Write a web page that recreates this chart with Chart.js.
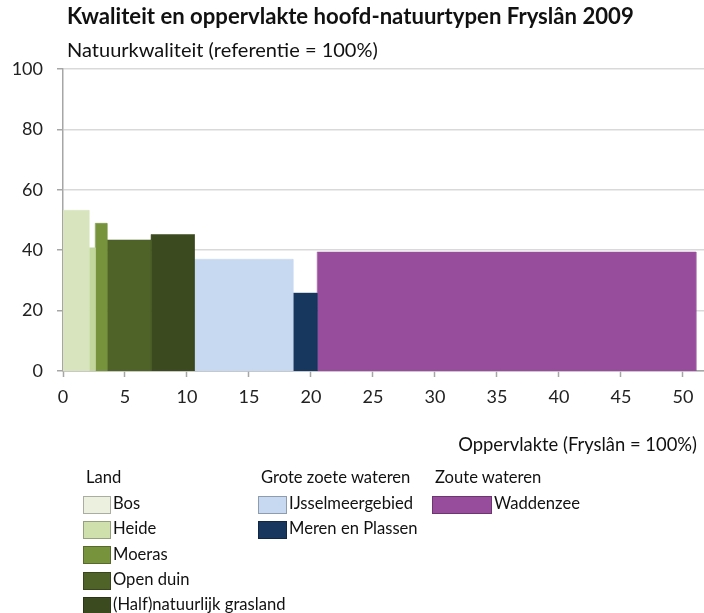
<!DOCTYPE html>
<html>
<head>
<meta charset="utf-8">
<script src="https://cdn.jsdelivr.net/npm/chart.js@4.4.1/dist/chart.umd.min.js"></script>
<style>
  html,body{margin:0;padding:0;background:#fff;}
  #wrap{position:relative;width:704px;height:613px;overflow:hidden;font-family:Lato,"Open Sans",sans-serif;color:#111;}
  #c{position:absolute;left:0;top:0;}
  .t{position:absolute;white-space:nowrap;line-height:1;}
  .sw{position:absolute;box-sizing:border-box;border:1px solid rgba(0,0,0,0.28);}
</style>
</head>
<body>
<div id="wrap">
  <canvas id="c" width="704" height="613"></canvas>
</div>
<script>
// ---- data ----
const categories = ["Bos", "Heide", "Moeras", "Open duin", "(Half)natuurlijk grasland", "IJsselmeergebied", "Meren en Plassen", "Waddenzee"];
const groups     = ["Land", "Land", "Land", "Land", "Land", "Grote zoete wateren", "Grote zoete wateren", "Zoute wateren"];
const areaShare  = [2.1, 0.5, 0.95, 3.55, 3.5, 7.95, 1.95, 30.55];   // Oppervlakte (Fryslân = 100%)
const quality    = [53.2, 40.8, 48.9, 43.4, 45.2, 37.0, 25.8, 39.4]; // Natuurkwaliteit (referentie = 100%)
const barColors  = ["#d7e4bd", "#c3d69b", "#77933c", "#4f6228", "#3b4a1f", "#c6d9f1", "#17375e", "#984c9c"];
const legendColors = ["#ebf1de", "#cfe0ad", "#77933c", "#4f6228", "#3b4a1f", "#c6d9f1", "#17375e", "#984c9c"];
const xTicks = [0, 5, 10, 15, 20, 25, 30, 35, 40, 45, 50];
const yTicks = [0, 20, 40, 60, 80, 100];

// ---- build rectangles from cumulative area ----
let cum = 0;
const datasets = categories.map((name, i) => {
  const x0 = cum, x1 = cum + areaShare[i];
  cum = x1;
  return {
    label: name,
    data: [{x: x0, y: 0}, {x: x0, y: quality[i]}, {x: x1, y: quality[i]}, {x: x1, y: 0}],
    showLine: true,
    fill: 'origin',
    backgroundColor: barColors[i],
    borderColor: barColors[i],
    borderWidth: 0.5,
    pointRadius: 0,
    tension: 0
  };
});

const axisGrey = '#a6a6a6';
new Chart(document.getElementById('c'), {
  type: 'scatter',
  data: { datasets },
  options: {
    responsive: false,
    animation: false,
    events: [],
    layout: { padding: { top: 69, left: 0, right: 0, bottom: 0 } },
    plugins: { legend: { display: false }, tooltip: { enabled: false }, title: { display: false } },
    scales: {
      x: {
        type: 'linear', min: 0, max: 51.7,
        afterBuildTicks: s => { s.ticks = xTicks.map(v => ({ value: v })); },
        afterFit: s => { s.height = 242; },
        grid: { drawOnChartArea: false, drawTicks: true, tickLength: 6, tickColor: axisGrey, tickWidth: 1.5 },
        border: { color: axisGrey, width: 1.5 },
        ticks: { color: '#222', padding: 9, font: { family: 'Lato', size: 18 }, maxRotation: 0 }
      },
      y: {
        type: 'linear', min: 0, max: 100,
        afterBuildTicks: s => { s.ticks = yTicks.map(v => ({ value: v })); },
        afterFit: s => { s.width = 63; },
        grid: { color: '#d9d9d9', lineWidth: 1.5, drawTicks: true, tickLength: 6, tickColor: axisGrey, tickWidth: 1.5 },
        border: { color: axisGrey, width: 1.5 },
        ticks: { color: '#222', padding: 14, font: { family: 'Lato', size: 18 } }
      }
    }
  }
});

// ---- text overlays ----
const wrap = document.getElementById('wrap');
const mctx = document.createElement('canvas').getContext('2d');
function addText(txt, left, baseline, size, opts = {}) {
  const d = document.createElement('div');
  d.className = 't';
  d.textContent = txt;
  const weight = opts.bold ? 'bold ' : '';
  let s = size;
  if (opts.width) {
    mctx.font = weight + '100px Lato';
    s = 100 * opts.width / mctx.measureText(txt).width;
  }
  d.style.fontSize = s + 'px';
  if (opts.bold) d.style.fontWeight = 'bold';
  d.style.top = (baseline - 0.887 * s) + 'px';
  if (opts.right !== undefined) { d.style.right = (704 - opts.right) + 'px'; }
  else d.style.left = left + 'px';
  wrap.appendChild(d);
}
addText("Kwaliteit en oppervlakte hoofd-natuurtypen Fryslân 2009", 67, 25, 19, { bold: true, width: 567 });
addText("Natuurkwaliteit (referentie = 100%)", 67, 57, 17, { width: 311 });
addText("Oppervlakte (Fryslân = 100%)", 0, 451, 17, { width: 239, right: 697 });

// legend
const groupCols = { "Land": { x: 83, sw: 28 }, "Grote zoete wateren": { x: 258, sw: 29 }, "Zoute wateren": { x: 432, sw: 60 } };
const seen = {};
Object.keys(groupCols).forEach(g => { addText(g, groupCols[g].x + 3, 484, 16.6); seen[g] = 0; });
categories.forEach((name, i) => {
  const g = groups[i], col = groupCols[g], row = seen[g]++;
  const top = 496 + row * 25.2;
  const sw = document.createElement('div');
  sw.className = 'sw';
  sw.style.left = col.x + 'px';
  sw.style.top = top + 'px';
  sw.style.width = col.sw + 'px';
  sw.style.height = '18px';
  sw.style.background = legendColors[i];
  wrap.appendChild(sw);
  addText(name, col.x + col.sw + 2, top + 14, 16.6);
});
</script>
</body>
</html>
